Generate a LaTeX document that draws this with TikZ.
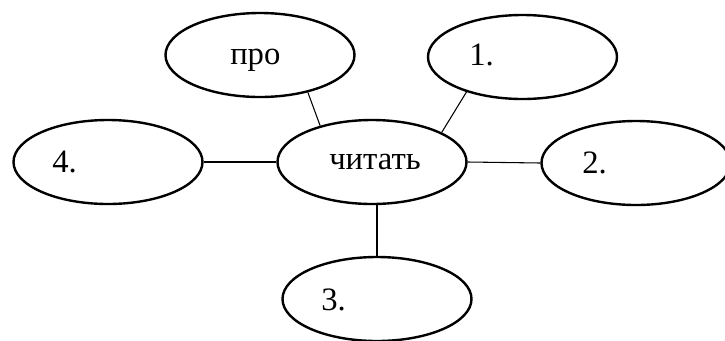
\documentclass[tikz,border=0pt]{standalone}
\usepackage{fontspec}
\setmainfont{Liberation Serif}
\usetikzlibrary{shapes.geometric}
\tikzset{
  blob/.style={ellipse, draw=black, line width=1.8pt, minimum width=141.75pt, minimum height=63pt, inner sep=0pt},
  txt/.style={anchor=base west, inner sep=0pt, font=\fontsize{24.5}{29}\selectfont},
  link/.style={draw=black, line width=0.8pt}
}
\begin{document}
\begin{tikzpicture}[x=0.75pt,y=-0.75pt]
\useasboundingbox (0,0) rectangle (725,340);
\node[blob] (pro) at (260,55) {};
\node[blob] (one) at (522.5,57) {};
\node[blob] (four) at (108,162) {};
\node[blob] (chit) at (372,162) {};
\node[blob] (two) at (636,163) {};
\node[blob] (three) at (377,299) {};
\node[txt] (tpro) at (230,64.5) {про};
\node[txt] (tone) at (469,65.5) {1.};
\node[txt] (tfour) at (52,172) {4.};
\node[txt] (tchit) at (329,169) {читать};
\node[txt] (ttwo) at (582,173) {2.};
\node[txt] (tthree) at (321,310) {3.};
\draw[link] (pro.-38) -- (chit.145);
\draw[link] (one.212) -- (chit.23);
\draw[link] (four.east) -- (chit.west);
\draw[link] (chit.east) -- (two.west);
\draw[link] (three.north) -- (three.north |- chit.south);
\end{tikzpicture}
\end{document}
